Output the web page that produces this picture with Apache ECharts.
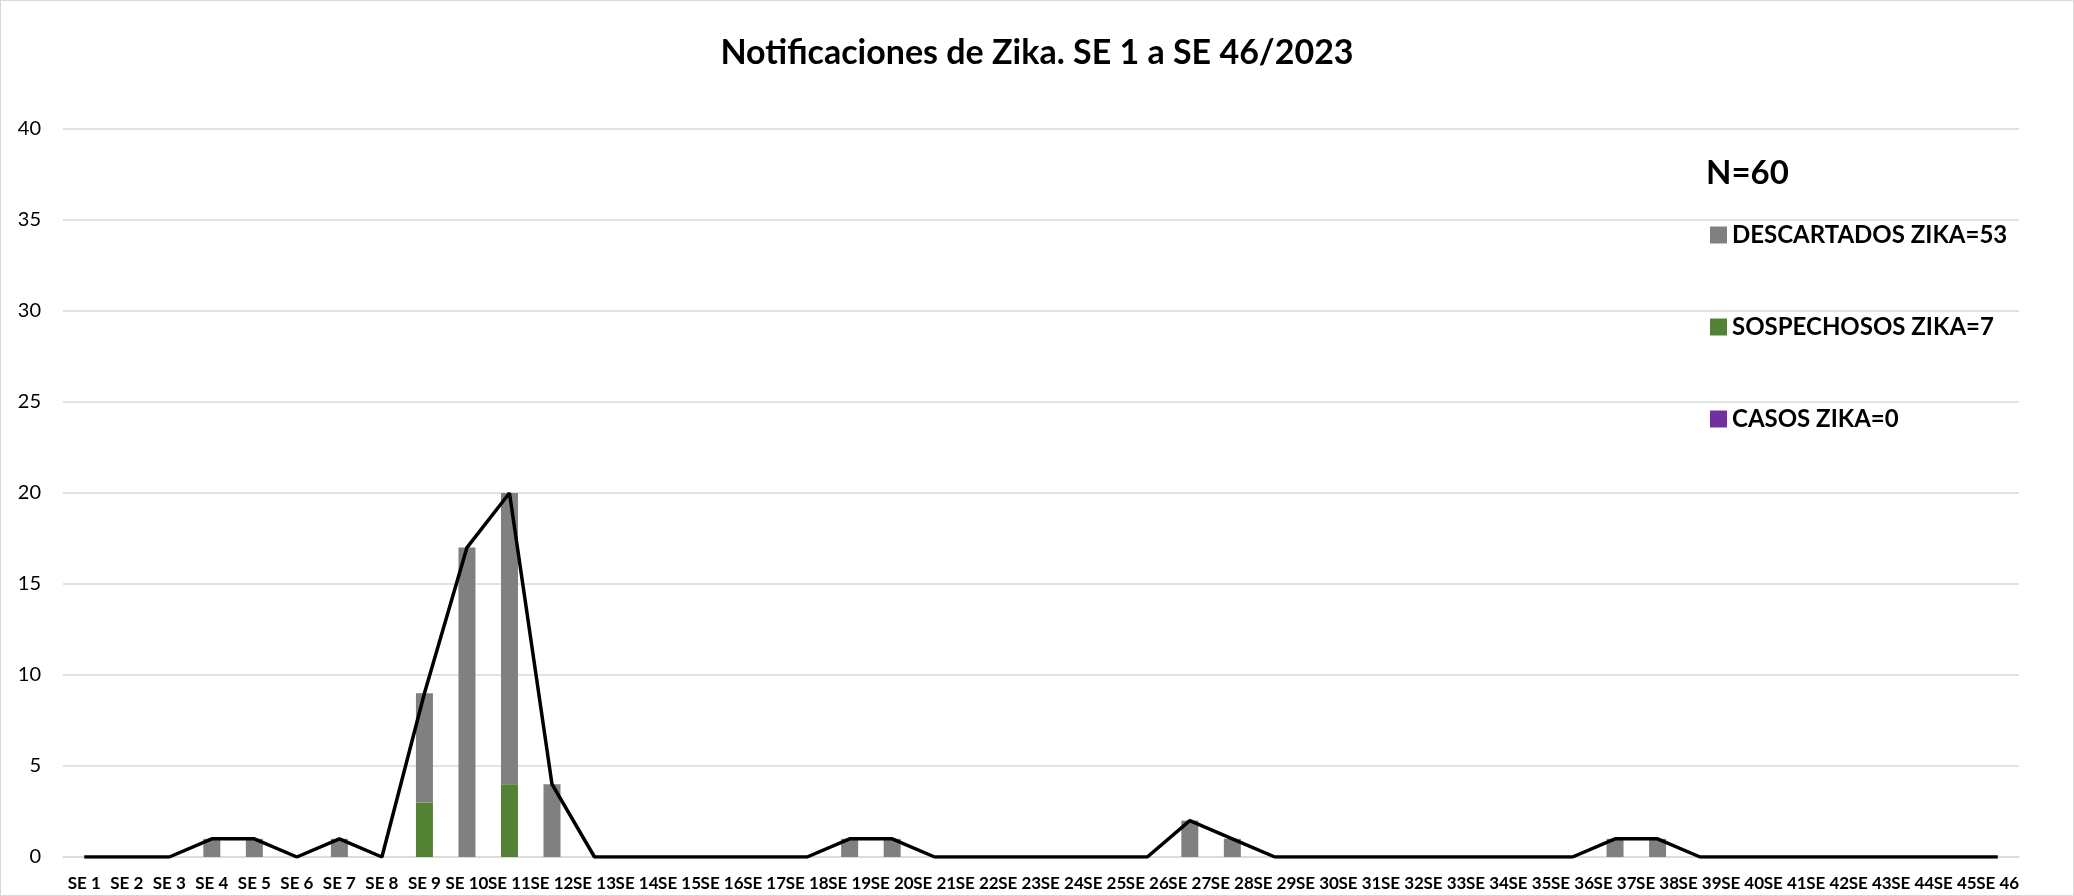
<!DOCTYPE html>
<html>
<head>
  <meta charset="utf-8">
  <script src="https://cdn.jsdelivr.net/npm/echarts@6/dist/echarts.min.js"></script>
  <style>
    html, body { margin: 0; padding: 0; background: #fff; }
    #main { width: 2072px; height: 894px; border: 1px solid #d9d9d9; }
  </style>
</head>
<body>
<div id="main"></div>
<script type="text/javascript">
// semanas epidemiologicas
var semanas = [];
for (var i = 1; i <= 46; i++) semanas.push('SE ' + i);

// valores por semana (SE 1 .. SE 46)
var descartados = [0,0,0,1,1,0,1,0,6,17,16,4,0,0,0,0,0,0,1,1,0,0,0,0,0,0,2,1,0,0,0,0,0,0,0,0,1,1,0,0,0,0,0,0,0,0];
var sospechosos = [0,0,0,0,0,0,0,0,3,0,4,0,0,0,0,0,0,0,0,0,0,0,0,0,0,0,0,0,0,0,0,0,0,0,0,0,0,0,0,0,0,0,0,0,0,0];
var casos       = [0,0,0,0,0,0,0,0,0,0,0,0,0,0,0,0,0,0,0,0,0,0,0,0,0,0,0,0,0,0,0,0,0,0,0,0,0,0,0,0,0,0,0,0,0,0];

var total = descartados.map(function (v, i) { return v + sospechosos[i] + casos[i]; });

var fontFam = 'Lato, "Open Sans", sans-serif';
var legendText = { fontSize: 24, fontWeight: 'bold', color: '#000', fontFamily: fontFam };

function legendAt(name, top) {
  return {
    orient: 'vertical',
    left: 1704,
    top: top,
    itemWidth: 17,
    itemHeight: 17,
    itemGap: 8,
    icon: 'rect',
    data: [name],
    textStyle: legendText
  };
}

var chart = echarts.init(document.getElementById('main'));
chart.setOption({
  animation: false,
  textStyle: { fontFamily: fontFam },
  title: {
    text: 'Notificaciones de Zika. SE 1 a SE 46/2023',
    left: 'center',
    top: 30,
    textStyle: { fontSize: 34, fontWeight: 'bold', color: '#000', fontFamily: fontFam }
  },
  graphic: [{
    type: 'text',
    left: 1705,
    top: 156,
    style: { text: 'N=60', font: 'bold 33px ' + fontFam, fill: '#000' }
  }],
  legend: [
    legendAt('DESCARTADOS ZIKA=53', 217),
    legendAt('SOSPECHOSOS ZIKA=7', 309),
    legendAt('CASOS ZIKA=0', 401)
  ],
  grid: { left: 62, right: 54, top: 128, bottom: 38, containLabel: false },
  xAxis: {
    type: 'category',
    data: semanas,
    axisLine: { lineStyle: { color: '#d9d9d9', width: 1.5 } },
    axisTick: { show: false },
    axisLabel: { interval: 0, fontSize: 17, fontWeight: 'bold', color: '#000', margin: 18, fontFamily: fontFam }
  },
  yAxis: {
    type: 'value',
    min: 0,
    max: 40,
    interval: 5,
    axisLine: { show: false },
    axisTick: { show: false },
    splitLine: { lineStyle: { color: '#d9d9d9', width: 1.5 } },
    axisLabel: { fontSize: 20, color: '#000', margin: 22, fontFamily: fontFam }
  },
  series: [
    {
      name: 'SOSPECHOSOS ZIKA=7',
      type: 'bar',
      stack: 'z',
      barWidth: 17,
      itemStyle: { color: '#548235' },
      data: sospechosos
    },
    {
      name: 'DESCARTADOS ZIKA=53',
      type: 'bar',
      stack: 'z',
      barWidth: 17,
      itemStyle: { color: '#808080' },
      data: descartados
    },
    {
      name: 'CASOS ZIKA=0',
      type: 'bar',
      stack: 'z',
      barWidth: 17,
      itemStyle: { color: '#7030a0' },
      data: casos
    },
    {
      name: 'Total',
      type: 'line',
      symbol: 'none',
      z: 5,
      lineStyle: { color: '#000', width: 3.5 },
      data: total
    }
  ]
});
</script>
</body>
</html>
